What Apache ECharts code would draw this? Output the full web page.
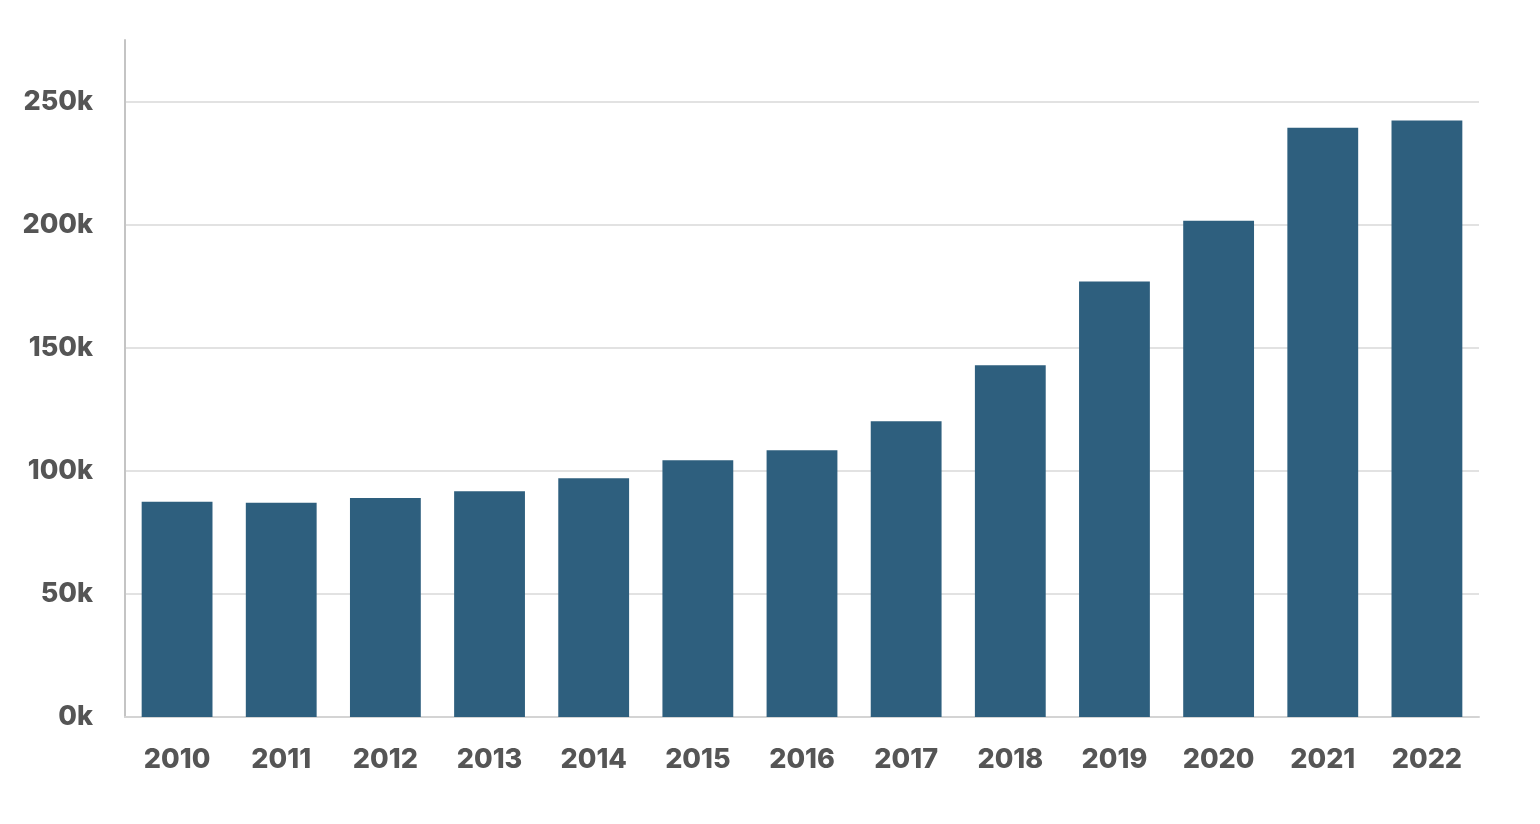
<!DOCTYPE html>
<html>
<head>
<meta charset="utf-8">
<script src="https://cdn.jsdelivr.net/npm/echarts@6/dist/echarts.min.js"></script>
<style>
  html, body { margin: 0; padding: 0; background: #fff; }
  #chart { width: 1540px; height: 824px; }
</style>
</head>
<body>
<div id="chart"></div>
<script>
'use strict';

// ── Data ──────────────────────────────────────────────────────────────────────
const years  = ['2010', '2011', '2012', '2013', '2014', '2015', '2016',
                '2017', '2018', '2019', '2020', '2021', '2022'];
const values = [87.4, 87.0, 89.0, 91.7, 97.0, 104.3, 108.4,
                120.1, 142.9, 176.9, 201.6, 239.4, 242.3]; // thousands

// ── Chart ─────────────────────────────────────────────────────────────────────
const chart = echarts.init(document.getElementById('chart'), null, { renderer: 'canvas' });

const labelFont = {
  color:      '#555555',
  fontSize:   27,
  fontWeight: 800,
  fontFamily: 'Inter, "Liberation Sans", sans-serif',
};

chart.setOption({
  backgroundColor: '#ffffff',
  animation: false,
  grid: { left: 125, right: 61, top: 40, bottom: 107 },
  xAxis: {
    type: 'category',
    data: years,
    axisLine:  { lineStyle: { color: '#d4d4d4', width: 2 } },
    axisTick:  { show: false },
    axisLabel: { ...labelFont, margin: 29 },
  },
  yAxis: {
    type: 'value',
    min: 0,
    max: 275,
    interval: 50,
    axisLine:  { show: true, lineStyle: { color: '#c4c4c4', width: 2 } },
    axisTick:  { show: false },
    axisLabel: { ...labelFont, margin: 32, showMaxLabel: false,
                 formatter: v => (v % 50 === 0 ? v + 'k' : '') },
    splitLine: { show: true, showMinLine: false, showMaxLine: false,
                 lineStyle: { color: '#d9d9d9', width: 1.5 } },
  },
  series: [{
    type: 'bar',
    data: values,
    barCategoryGap: '32%',
    itemStyle: { color: '#2e5f7e' },
  }],
});
</script>
</body>
</html>
